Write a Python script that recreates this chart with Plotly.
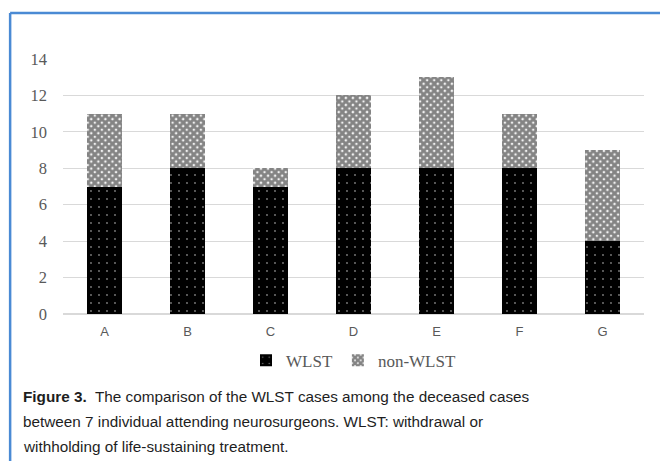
import plotly.graph_objects as go

# Attending neurosurgeons and their deceased cases
surgeons = ["A", "B", "C", "D", "E", "F", "G"]
wlst = [7, 8, 7, 8, 8, 8, 4]
non_wlst = [4, 3, 1, 4, 5, 3, 5]
y_ticks = [0, 2, 4, 6, 8, 10, 12, 14]

caption_lines = [
    "<b>Figure 3.</b>  The comparison of the WLST cases among the deceased cases",
    "between 7 individual attending neurosurgeons. WLST: withdrawal or",
    "withholding of life-sustaining treatment.",
]

fig = go.Figure()
fig.add_trace(go.Bar(
    x=surgeons, y=wlst, name="WLST",
    marker=dict(color="black", line=dict(width=0),
                pattern=dict(shape=".", fgcolor="white", bgcolor="black",
                             size=8, solidity=0.04)),
))
fig.add_trace(go.Bar(
    x=surgeons, y=non_wlst, name="non-WLST",
    marker=dict(color="#141414", line=dict(width=0),
                pattern=dict(shape="x", fgcolor="#141414", bgcolor="#f4f4f4",
                             size=5, solidity=0.82)),
))

# caption placed line by line below the chart
annotations = []
for i, line in enumerate(caption_lines):
    annotations.append(dict(
        xref="paper", yref="paper", x=-0.072, y=-0.322 - i * 0.099,
        xanchor="left", yanchor="middle", align="left", showarrow=False,
        font=dict(family="Liberation Sans", size=15.3, color="#1e1e1e"),
        text=line))

fig.update_layout(
    barmode="stack",
    bargap=0.59,
    width=660, height=461,
    margin=dict(l=63, r=16, t=59, b=147),
    paper_bgcolor="white", plot_bgcolor="white",
    showlegend=True,
    legend=dict(orientation="h", x=0.5, xanchor="center", y=-0.113, yanchor="top",
                font=dict(family="Liberation Serif", size=17, color="#595959"),
                itemwidth=30, traceorder="normal"),
    xaxis=dict(showgrid=False, showline=False, ticks="", ticklabelstandoff=8,
               tickfont=dict(family="Liberation Sans", size=13, color="#595959")),
    yaxis=dict(range=[0, 14], tickvals=y_ticks, showgrid=True, gridcolor="#d9d9d9",
               gridwidth=1, zeroline=True, zerolinecolor="#d9d9d9", ticks="",
               ticklabelstandoff=15,
               tickfont=dict(family="Liberation Serif", size=16.5, color="#595959")),
    shapes=[
        dict(type="line", xref="paper", yref="paper", x0=-0.091, x1=1.05, y0=1.18, y1=1.18,
             line=dict(color="#4a8ad4", width=2.5)),
        dict(type="line", xref="paper", yref="paper", x0=-0.091, x1=-0.091, y0=1.18, y1=-0.6,
             line=dict(color="#4a8ad4", width=2.5)),
    ],
    annotations=annotations,
)

fig.write_html("out.html")
